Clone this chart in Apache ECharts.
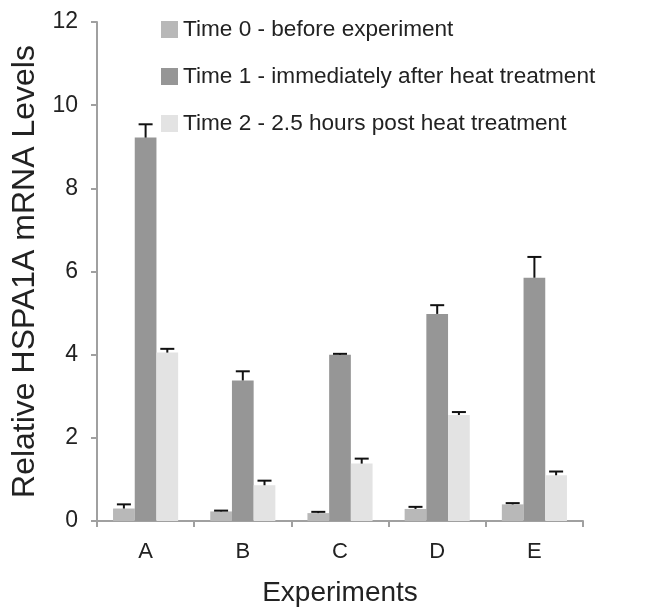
<!DOCTYPE html>
<html>
<head>
<meta charset="utf-8">
<script src="https://cdn.jsdelivr.net/npm/echarts@6/dist/echarts.min.js"></script>
<style>html,body{margin:0;padding:0;background:#fff;}#c{width:646px;height:607px;}</style>
</head>
<body>
<div id="c"></div>
<script>
var categories = ['A', 'B', 'C', 'D', 'E'];
var seriesNames = ['Time 0 - before experiment', 'Time 1 - immediately after heat treatment', 'Time 2 - 2.5 hours post heat treatment'];
var time0 = [0.30, 0.23, 0.19, 0.29, 0.40];
var time1 = [9.22, 3.38, 4.00, 4.98, 5.85];
var time2 = [4.05, 0.86, 1.38, 2.55, 1.10];
var err0 = [0.10, 0.02, 0.03, 0.05, 0.03];
var err1 = [0.32, 0.22, 0.02, 0.21, 0.50];
var err2 = [0.09, 0.11, 0.12, 0.07, 0.09];
var yTicks = [0, 2, 4, 6, 8, 10, 12];

var colors = ['#b8b8b8', '#969696', '#e3e3e3'];
var values = [time0, time1, time2];
var errs = [err0, err1, err2];
var gapFrac = 0.33;

var chart = echarts.init(document.getElementById('c'));
var series = [];
values.forEach(function (v, i) {
  series.push({
    name: seriesNames[i], type: 'bar', data: v,
    barGap: '0%', barCategoryGap: (gapFrac * 100) + '%',
    itemStyle: { color: colors[i] }, z: 2
  });
});
values.forEach(function (v, i) {
  var d = v.map(function (val, j) { return [j, val, val + errs[i][j]]; });
  series.push({
    type: 'custom', data: d, z: 5, silent: true,
    renderItem: function (params, api) {
      var cat = api.value(0);
      var base = api.coord([cat, api.value(1)]);
      var top = api.coord([cat, api.value(2)]);
      var cw = api.size([1, 0])[0];
      var bw = cw * (1 - gapFrac) / 3;
      var x = base[0] + (i - 1) * bw;
      var style = { stroke: '#111', lineWidth: 2 };
      return {
        type: 'group', children: [
          { type: 'line', shape: { x1: x, y1: base[1], x2: x, y2: top[1] }, style: style },
          { type: 'line', shape: { x1: x - 7, y1: top[1], x2: x + 7, y2: top[1] }, style: style }
        ]
      };
    }
  });
});

chart.setOption({
  animation: false,
  backgroundColor: '#fff',
  textStyle: { fontFamily: 'Liberation Sans, Arial, sans-serif' },
  grid: { left: 97, right: 63, top: 22, bottom: 86, outerBoundsMode: 'none', containLabel: false },
  legend: {
    data: seriesNames, orient: 'vertical', left: 156, top: 13,
    itemWidth: 17, itemHeight: 17, itemGap: 24, icon: 'rect',
    textStyle: { fontSize: 22.6, color: '#222', fontFamily: 'Liberation Sans, Arial, sans-serif' },
    selectedMode: false
  },
  xAxis: {
    type: 'category', data: categories,
    name: 'Experiments', nameLocation: 'middle', nameGap: 58,
    nameTextStyle: { fontSize: 28, color: '#222' },
    axisLine: { lineStyle: { color: '#a0a0a0', width: 2 } },
    axisTick: { show: true, length: 6, lineStyle: { color: '#a0a0a0', width: 2 } },
    axisLabel: { fontSize: 22, color: '#222', margin: 20 }
  },
  yAxis: {
    type: 'value', min: 0, max: 12, interval: 2,
    name: 'Relative HSPA1A mRNA Levels', nameLocation: 'middle', nameGap: 56,
    nameTextStyle: { fontSize: 32, color: '#222' },
    axisLine: { show: true, lineStyle: { color: '#a0a0a0', width: 2 } },
    axisTick: { show: true, length: 6, lineStyle: { color: '#a0a0a0', width: 2 } },
    splitLine: { show: false },
    axisLabel: { fontSize: 23, color: '#222', margin: 19,
      formatter: function (v) { return yTicks.indexOf(v) >= 0 ? String(v) : ''; } }
  },
  series: series
});
</script>
</body>
</html>
